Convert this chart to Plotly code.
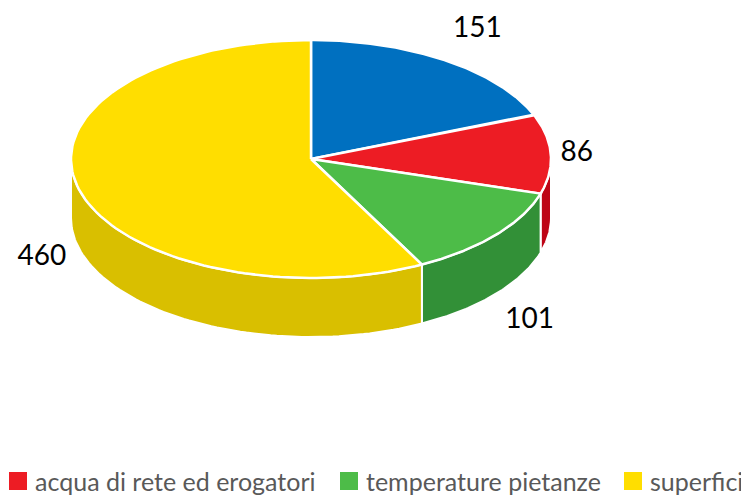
import numpy as np
import plotly.graph_objects as go

# ---- data ----
categories = ["(blu)", "acqua di rete ed erogatori", "temperature pietanze", "superfici"]
values = [151, 86, 101, 460]
show_in_legend = [False, True, True, True]

# ---- style ----
top_colors = ["#0070C0", "#ED1C24", "#4DBC48", "#FFDE00"]
side_colors = ["#00508C", "#BE0516", "#329037", "#D9BF00"]
label_nudge = [(32, -30), (26, 0), (34, 27), (-36, 12)]
legend_key_x = [None, 18, 349, 633]
legend_text_gap = 15
legend_y = 481

W, H = 749, 495
PAGE_MARGIN = 8  # default body margin of the html page
cx, cy = 311, 159
rx, ry = 240, 119
depth = 59

total = sum(values)
bounds = np.concatenate([[0], np.cumsum(values)]) / total * 360.0


def pt(theta_deg, dz=0.0):
    t = np.radians(theta_deg)
    return cx + rx * np.sin(t), cy - ry * np.cos(t) + dz


fig = go.Figure()

# side faces (front half: 90..270 deg)
for i in range(len(values)):
    a, b = max(bounds[i], 90), min(bounds[i + 1], 270)
    if b <= a:
        continue
    th = np.linspace(a, b, 80)
    xt, yt = pt(th)
    xb, yb = pt(th[::-1], depth)
    xs = np.concatenate([xt, xb, [xt[0]]])
    ys = np.concatenate([yt, yb, [yt[0]]])
    fig.add_trace(go.Scatter(x=xs, y=ys, mode="lines", fill="toself",
                             fillcolor=side_colors[i],
                             line=dict(color="white", width=2),
                             hoverinfo="skip", showlegend=False))

# top faces
for i in range(len(values)):
    th = np.linspace(bounds[i], bounds[i + 1], 120)
    xa, ya = pt(th)
    xs = np.concatenate([[cx], xa, [cx]])
    ys = np.concatenate([[cy], ya, [cy]])
    fig.add_trace(go.Scatter(x=xs, y=ys, mode="lines", fill="toself",
                             fillcolor=top_colors[i],
                             line=dict(color="white", width=2.5),
                             name=categories[i], hoverinfo="skip",
                             showlegend=False))

# data labels
lx, ly = [], []
for i in range(len(values)):
    mid = (bounds[i] + bounds[i + 1]) / 2
    front = 90 < (mid % 360) < 270
    x0, y0 = pt(mid, depth if front else 0)
    lx.append(x0 + label_nudge[i][0])
    ly.append(y0 + label_nudge[i][1])
fig.add_trace(go.Scatter(x=lx, y=ly, mode="text", text=[str(v) for v in values],
                         textfont=dict(family="Lato", size=28, color="#000000"),
                         cliponaxis=False, hoverinfo="skip", showlegend=False))

# legend (drawn manually to keep the compact spacing of the original)
kx, ky, kc = [], [], []
for i in range(len(values)):
    if show_in_legend[i]:
        kx.append(legend_key_x[i])
        ky.append(legend_y)
        kc.append(top_colors[i])
        fig.add_annotation(x=legend_key_x[i] + legend_text_gap, y=legend_y,
                           text=categories[i], xanchor="left", yanchor="middle",
                           showarrow=False,
                           font=dict(family="Lato", size=25, color="#595959"))
fig.add_trace(go.Scatter(x=kx, y=ky, mode="markers",
                         marker=dict(symbol="square", size=18, color=kc),
                         cliponaxis=False, hoverinfo="skip", showlegend=False))

fig.update_layout(
    width=W, height=H,
    margin=dict(l=0, r=0, t=0, b=0),
    paper_bgcolor="white", plot_bgcolor="white",
    xaxis=dict(range=[PAGE_MARGIN, W + PAGE_MARGIN], visible=False, fixedrange=True),
    yaxis=dict(range=[H + PAGE_MARGIN, PAGE_MARGIN], visible=False, fixedrange=True),
    showlegend=False,
)

fig.write_html("out.html")
